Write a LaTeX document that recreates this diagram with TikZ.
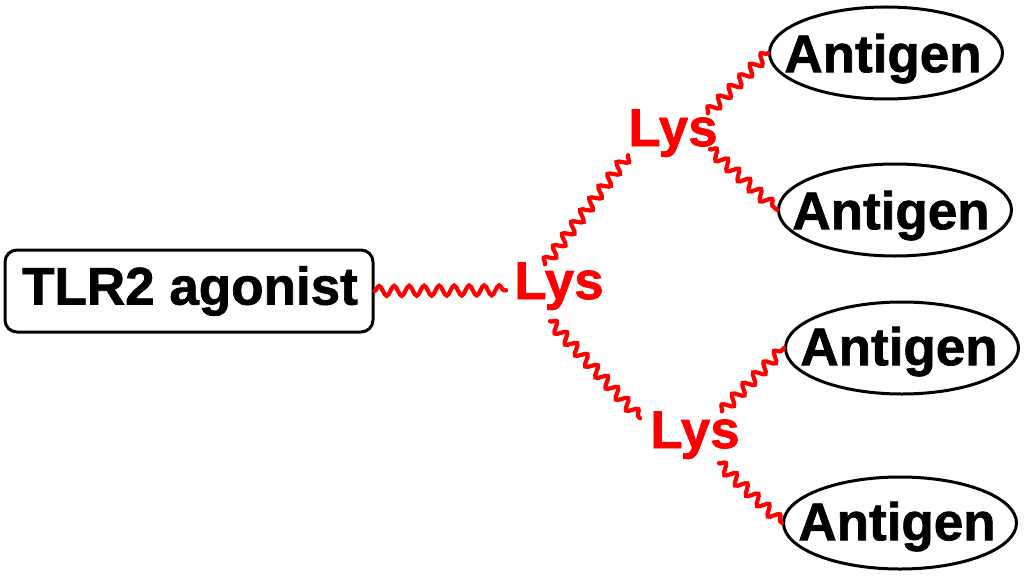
\documentclass[tikz,border=0pt]{standalone}
\usepackage{fontspec}
\setmainfont{Liberation Sans}
\newfontfamily\heavyfont[FakeBold=1.3]{Liberation Sans Bold}
\usetikzlibrary{shapes.geometric,decorations.pathmorphing,calc}
\tikzset{
  big/.style={font=\fontsize{53}{60}\selectfont\heavyfont},
  lys/.style={big, text=red, anchor=base, inner sep=0pt},
  wavy/.style={red, line width=4.2pt, line cap=round,
    decorate, decoration={snake, amplitude=5pt, segment length=15pt}},
  agbox/.style={draw, rounded corners=12pt, line width=3pt, minimum width=368pt, minimum height=82pt, inner sep=0pt},
  antell/.style={draw, ellipse, line width=3pt, minimum width=233pt, minimum height=92pt, inner sep=0pt},
  anttxt/.style={big, text depth=0pt, inner sep=0pt}
}
\begin{document}
\begin{tikzpicture}[x=1pt,y=-1pt]
\useasboundingbox (0,0) rectangle (1024,575);
\node[agbox] (tlr) at (189,291) {};
\node[big, inner sep=0pt] (tlrtxt) at (190,291) {TLR2 agonist};
\node[lys] (lys1) at (559,299) {Lys};
\node[lys] (lys2) at (673,146) {Lys};
\node[lys] (lys3) at (695,448) {Lys};
\node[antell] (e1) at (886,53) {};
\node[anttxt] (t1) at (883,53) {Antigen};
\node[antell] (e2) at (895,210) {};
\node[anttxt] (t2) at (891,210) {Antigen};
\node[antell] (e3) at (902,348) {};
\node[anttxt] (t3) at (899,346) {Antigen};
\node[antell] (e4) at (900,523) {};
\node[anttxt] (t4) at (897,521) {Antigen};
\draw[wavy] (tlr.east) -- ($(lys1.west)+(-8,4)$);
\draw[wavy] ($(lys1.north)+(-14,2)$) -- ($(lys2.south west)+(0,-2)$);
\draw[wavy] ($(lys1.south)+(-9,11)$) -- ($(lys3.north west)+(-10,7)$);
\draw[wavy] ($(lys2.north east)+(-10,4)$) -- (e1.west);
\draw[wavy] ($(lys2.south east)+(-8,-8)$) -- (e2.west);
\draw[wavy] ($(lys3.north east)+(-18,0)$) -- (e3.west);
\draw[wavy] ($(lys3.south east)+(-21,4)$) -- (e4.west);
\end{tikzpicture}
\end{document}
